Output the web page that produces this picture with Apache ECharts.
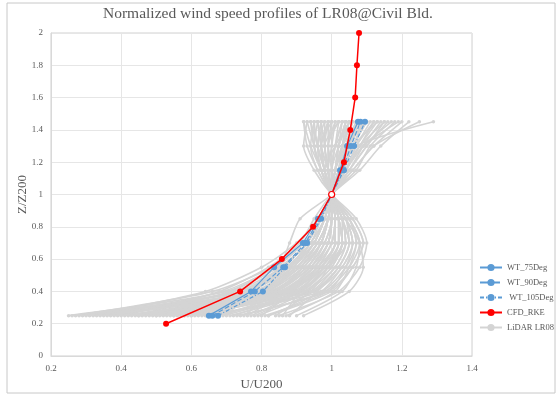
<!DOCTYPE html>
<html>
<head>
<meta charset="utf-8">
<script src="https://cdn.jsdelivr.net/npm/echarts@6/dist/echarts.min.js"></script>
<style>html,body{margin:0;padding:0;background:#fff;}#c{width:559px;height:397px;}</style>
</head>
<body>
<div id="c"></div>
<script>
const titleText = 'Normalized wind speed profiles of LR08@Civil Bld.';
const xTicks = [0.2, 0.4, 0.6, 0.8, 1, 1.2, 1.4];
const yTicks = [0, 0.2, 0.4, 0.6, 0.8, 1, 1.2, 1.4, 1.6, 1.8, 2];

const heightsWT = [0.25, 0.4, 0.55, 0.7, 0.85, 1.0, 1.15, 1.3, 1.45];
const wt75 = [0.650, 0.770, 0.836, 0.918, 0.961, 1.0, 1.024, 1.044, 1.075];
const wt90 = [0.660, 0.781, 0.862, 0.925, 0.965, 1.0, 1.030, 1.055, 1.082];
const wt105 = [0.676, 0.804, 0.867, 0.930, 0.970, 1.0, 1.035, 1.064, 1.095];

const heightsCFD = [0.2, 0.4, 0.6, 0.8, 1.0, 1.2, 1.4, 1.6, 1.8, 2.0];
const cfdRKE = [0.528, 0.739, 0.858, 0.947, 1.0, 1.035, 1.053, 1.067, 1.072, 1.078];

const heightsLidar = [0.25, 0.4, 0.55, 0.7, 0.85, 1.0, 1.15, 1.3, 1.45];
const lidarProfiles = [
  [0.25, 0.70, 0.84, 0.92, 0.97, 1, 1.03, 1.06, 1.10],
  [0.28, 0.75, 0.88, 0.95, 0.98, 1, 1.02, 1.04, 1.07],
  [0.32, 0.80, 0.90, 0.96, 0.99, 1, 1.01, 1.03, 1.05],
  [0.35, 0.82, 0.93, 0.98, 1.00, 1, 1.00, 1.01, 1.02],
  [0.38, 0.72, 0.86, 0.93, 0.97, 1, 1.04, 1.08, 1.12],
  [0.42, 0.85, 0.95, 1.00, 1.01, 1, 0.99, 0.98, 0.97],
  [0.45, 0.78, 0.89, 0.94, 0.98, 1, 1.03, 1.05, 1.08],
  [0.48, 0.88, 0.97, 1.02, 1.02, 1, 0.98, 0.96, 0.94],
  [0.50, 0.74, 0.87, 0.94, 0.97, 1, 1.05, 1.10, 1.16],
  [0.52, 0.90, 0.99, 1.04, 1.03, 1, 0.97, 0.95, 0.93],
  [0.55, 0.81, 0.91, 0.97, 0.99, 1, 1.02, 1.03, 1.04],
  [0.57, 0.86, 0.96, 1.00, 1.01, 1, 1.01, 1.02, 1.03],
  [0.60, 0.92, 1.00, 1.03, 1.02, 1, 0.98, 0.97, 0.96],
  [0.62, 0.79, 0.90, 0.95, 0.98, 1, 1.04, 1.07, 1.11],
  [0.64, 0.95, 1.03, 1.06, 1.04, 1, 0.96, 0.93, 0.92],
  [0.66, 0.84, 0.94, 0.99, 1.00, 1, 1.02, 1.04, 1.06],
  [0.68, 0.88, 0.98, 1.02, 1.02, 1, 0.99, 1.00, 1.01],
  [0.70, 0.77, 0.85, 0.88, 0.91, 1, 1.06, 1.12, 1.20],
  [0.72, 0.90, 0.97, 1.01, 1.01, 1, 1.00, 0.99, 1.00],
  [0.74, 0.98, 1.05, 1.08, 1.05, 1, 0.97, 0.95, 0.94],
  [0.76, 0.87, 0.95, 0.99, 1.00, 1, 1.03, 1.05, 1.09],
  [0.78, 0.93, 1.01, 1.04, 1.03, 1, 0.98, 0.97, 0.99],
  [0.80, 0.89, 0.96, 1.00, 1.01, 1, 1.01, 1.02, 1.04],
  [0.82, 1.00, 1.06, 1.09, 1.06, 1, 0.96, 0.94, 0.95],
  [0.84, 0.94, 0.99, 1.02, 1.02, 1, 0.99, 0.98, 0.98],
  [0.86, 0.91, 0.97, 1.01, 1.01, 1, 1.02, 1.05, 1.07],
  [0.88, 0.96, 1.02, 1.05, 1.03, 1, 0.98, 0.96, 0.97],
  [0.90, 1.03, 1.07, 1.08, 1.05, 1, 0.97, 0.95, 0.96],
  [0.30, 0.64, 0.80, 0.90, 0.96, 1, 1.05, 1.09, 1.14],
  [0.40, 0.68, 0.82, 0.91, 0.95, 1, 1.08, 1.14, 1.22],
  [0.47, 0.76, 0.88, 0.93, 0.97, 1, 1.04, 1.09, 1.17],
  [0.56, 0.83, 0.92, 0.97, 0.99, 1, 1.06, 1.12, 1.25],
  [0.65, 0.97, 1.04, 1.07, 1.05, 1, 1.01, 1.03, 1.08],
  [0.73, 0.99, 1.06, 1.09, 1.06, 1, 0.98, 1.01, 1.05],
  [0.60, 0.80, 0.89, 0.95, 0.98, 1, 1.03, 1.07, 1.29],
  [0.44, 0.81, 0.92, 0.97, 0.99, 1, 0.97, 0.94, 0.92],
  [0.53, 0.86, 0.94, 0.98, 1.00, 1, 1.00, 1.00, 1.00],
  [0.69, 0.92, 1.00, 1.03, 1.02, 1, 1.01, 1.04, 1.10],
  [0.79, 0.95, 1.02, 1.05, 1.03, 1, 0.99, 0.98, 1.02],
  [0.36, 0.78, 0.90, 0.96, 0.99, 1, 1.02, 1.06, 1.13],
  [0.85, 1.02, 1.08, 1.10, 1.07, 1, 0.95, 0.92, 0.93],
  [0.58, 0.89, 0.98, 1.03, 1.02, 1, 0.99, 0.99, 1.02],
  [0.75, 0.84, 0.93, 0.97, 0.99, 1, 1.02, 1.03, 1.06],
  [0.63, 0.87, 0.96, 1.01, 1.01, 1, 1.03, 1.08, 1.15],
  [0.50, 0.83, 0.93, 0.98, 1.00, 1, 1.01, 1.02, 1.05],
  [0.92, 1.05, 1.09, 1.08, 1.04, 1, 0.97, 0.96, 0.98],
  [0.82, 0.97, 1.03, 1.06, 1.04, 1, 0.98, 0.97, 1.00],
  [0.67, 0.91, 0.99, 1.03, 1.03, 1, 1.00, 1.02, 1.04],
  [0.27, 0.66, 0.83, 0.92, 0.97, 1, 1.02, 1.05, 1.09],
  [0.31, 0.73, 0.87, 0.94, 0.98, 1, 1.03, 1.06, 1.10],
  [0.34, 0.69, 0.84, 0.92, 0.97, 1, 1.04, 1.07, 1.12],
  [0.37, 0.76, 0.89, 0.95, 0.98, 1, 1.01, 1.03, 1.06],
  [0.41, 0.79, 0.91, 0.96, 0.99, 1, 1.02, 1.04, 1.07],
  [0.43, 0.71, 0.85, 0.93, 0.97, 1, 1.05, 1.10, 1.15],
  [0.46, 0.84, 0.94, 0.99, 1.00, 1, 1.00, 1.01, 1.03],
  [0.49, 0.80, 0.91, 0.96, 0.99, 1, 1.03, 1.06, 1.09],
  [0.51, 0.87, 0.97, 1.01, 1.01, 1, 0.99, 0.98, 0.99],
  [0.54, 0.77, 0.88, 0.94, 0.98, 1, 1.04, 1.08, 1.13],
  [0.59, 0.85, 0.95, 0.99, 1.00, 1, 1.01, 1.03, 1.05],
  [0.61, 0.90, 0.99, 1.03, 1.02, 1, 0.99, 0.97, 0.97],
  [0.26, 0.74, 0.88, 0.95, 0.98, 1, 1.02, 1.03, 1.05],
  [0.33, 0.83, 0.94, 0.99, 1.00, 1, 1.00, 0.99, 0.99],
  [0.39, 0.87, 0.96, 1.01, 1.01, 1, 0.99, 0.97, 0.96],
  [0.29, 0.79, 0.91, 0.97, 0.99, 1, 1.01, 1.02, 1.04],
  [0.71, 0.94, 1.01, 1.04, 1.03, 1, 0.99, 0.99, 1.01],
  [0.77, 0.91, 0.98, 1.02, 1.02, 1, 1.00, 1.01, 1.03],
  [0.81, 0.99, 1.04, 1.06, 1.04, 1, 0.97, 0.96, 0.97],
  [0.87, 1.01, 1.05, 1.07, 1.05, 1, 0.98, 0.97, 0.99],
  [0.66, 0.82, 0.92, 0.97, 0.99, 1, 1.04, 1.09, 1.19],
  [0.55, 0.94, 1.02, 1.05, 1.04, 1, 0.97, 0.95, 0.95],
  [0.45, 0.91, 0.99, 1.03, 1.02, 1, 0.98, 0.96, 0.95],
  [0.58, 0.75, 0.86, 0.93, 0.97, 1, 1.07, 1.11, 1.18]
];

const seriesNames = ['WT_75Deg', 'WT_90Deg', ' WT_105Deg', 'CFD_RKE', 'LiDAR LR08'];

const FONT = '"Liberation Serif", "DejaVu Serif", serif';
const TXT = '#595959';
const GRAY = '#d4d4d4';
const BLUE = '#5b9bd5';
const RED = '#ff0000';

function pairs(xs, ys) { return xs.map((x, i) => [x, ys[i]]); }

const series = [];
lidarProfiles.forEach(p => {
  series.push({
    name: seriesNames[4], type: 'line', z: 1, smooth: 0.25,
    data: pairs(p, heightsLidar),
    symbol: 'circle', symbolSize: 3.5,
    lineStyle: { color: GRAY, width: 1.6 },
    itemStyle: { color: GRAY }
  });
});
[[wt75, 'solid'], [wt90, 'dashed'], [wt105, [4, 2, 1, 2]]].forEach((w, i) => {
  series.push({
    name: seriesNames[i], type: 'line', z: 3,
    data: pairs(w[0], heightsWT),
    symbol: 'circle', symbolSize: 6,
    lineStyle: { color: BLUE, width: 1.2, type: w[1] },
    itemStyle: { color: BLUE }
  });
});
series.push({
  name: seriesNames[3], type: 'line', z: 4,
  data: pairs(cfdRKE, heightsCFD).map(d => (d[0] === 1 && d[1] === 1)
    ? { value: d, itemStyle: { color: '#ffffff', borderColor: RED, borderWidth: 1.2 } }
    : d),
  symbol: 'circle', symbolSize: 6,
  lineStyle: { color: RED, width: 1.5 },
  itemStyle: { color: RED }
});

const chart = echarts.init(document.getElementById('c'), null, { renderer: 'canvas' });
chart.setOption({
  animation: false,
  backgroundColor: '#ffffff',
  textStyle: { fontFamily: FONT },
  graphic: [{
    type: 'rect', shape: { x: 7, y: 3, width: 548, height: 390 },
    style: { fill: 'none', stroke: '#c8c8c8', lineWidth: 1 }, silent: true, z: -10
  }, {
    type: 'rect', shape: { x: 51, y: 33, width: 421, height: 323 },
    style: { fill: 'none', stroke: '#d0d0d0', lineWidth: 1 }, silent: true, z: 0
  }, {
    type: 'text', left: 14, top: 'middle', rotation: Math.PI / 2, silent: true,
    style: { text: '', fill: TXT }
  }],
  title: {
    text: titleText, left: 98, top: 1,
    textStyle: { fontFamily: FONT, fontSize: 15.5, fontWeight: 'normal', color: TXT }
  },
  legend: {
    orient: 'vertical', left: 474, top: 258, itemGap: 6,
    itemWidth: 22, itemHeight: 9,
    data: seriesNames,
    textStyle: { fontFamily: FONT, fontSize: 8.5, color: TXT }
  },
  grid: { left: 51, right: 87, top: 33, bottom: 41 },
  xAxis: {
    type: 'value', min: xTicks[0], max: xTicks[xTicks.length - 1], interval: 0.2,
    name: 'U/U200', nameLocation: 'middle', nameGap: 22, nameMoveOverlap: false,
    nameTextStyle: { fontFamily: FONT, fontSize: 13, color: TXT },
    axisLine: { show: true, lineStyle: { color: '#d9d9d9' } },
    axisTick: { show: false },
    axisLabel: { fontFamily: FONT, fontSize: 9, color: TXT, margin: 8 },
    splitLine: { show: true, lineStyle: { color: '#e6e6e6' } }
  },
  yAxis: {
    type: 'value', min: yTicks[0], max: yTicks[yTicks.length - 1], interval: 0.2,
    name: 'Z/Z200', nameLocation: 'middle', nameGap: 22, nameMoveOverlap: false,
    nameTextStyle: { fontFamily: FONT, fontSize: 13, color: TXT },
    axisLine: { show: true, lineStyle: { color: '#d9d9d9' } },
    axisTick: { show: false },
    axisLabel: { fontFamily: FONT, fontSize: 9, color: TXT, margin: 8 },
    splitLine: { show: true, lineStyle: { color: '#e6e6e6' } }
  },
  series: series
});
</script>
</body>
</html>
